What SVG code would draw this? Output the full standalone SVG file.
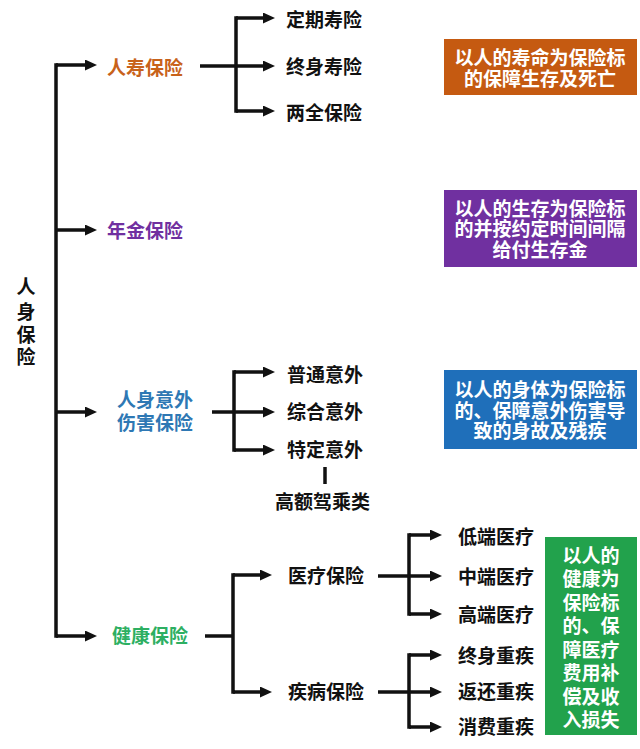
<svg xmlns="http://www.w3.org/2000/svg" width="640" height="749" viewBox="0 0 640 749">
<defs>
<style>
text{font-family:"Noto Sans CJK SC","Noto Sans",sans-serif;font-weight:bold;font-size:19px;}
.k{fill:#111;}
.w{fill:#fff;text-anchor:middle;}
.ln{stroke:#111;stroke-width:3.5;fill:none;}
.ar{stroke:#111;stroke-width:3.5;fill:none;marker-end:url(#ah);}
</style>
<marker id="ah" markerUnits="userSpaceOnUse" markerWidth="12" markerHeight="11" viewBox="0 0 12 11" refX="2" refY="5.5" orient="auto">
<path d="M0,0 L12,5.5 L0,11 z" fill="#111"/>
</marker>
</defs>
<rect width="640" height="749" fill="#fff"/>
<g id="connectors">
<path class="ln" d="M58,65 H56 V636 H58"/>
<path class="ar" d="M56,65 H87"/>
<path class="ar" d="M56,230 H87"/>
<path class="ar" d="M56,412 H87"/>
<path class="ar" d="M56,636 H87"/>
<path class="ln" d="M200,66 H236"/>
<path class="ln" d="M238,18 H236 V111 H238"/>
<path class="ar" d="M236,18 H265"/>
<path class="ar" d="M236,66 H265"/>
<path class="ar" d="M236,111 H265"/>
<path class="ln" d="M212,412 H234"/>
<path class="ln" d="M236,372 H234 V450 H236"/>
<path class="ar" d="M234,372 H265"/>
<path class="ar" d="M234,412 H265"/>
<path class="ar" d="M234,450 H265"/>
<path class="ln" d="M325,467 V484"/>
<path class="ln" d="M205,636 H233"/>
<path class="ln" d="M235,575 H233 V692 H235"/>
<path class="ar" d="M233,575 H262"/>
<path class="ar" d="M233,692 H262"/>
<path class="ln" d="M378,576 H409"/>
<path class="ln" d="M411,535 H409 V614 H411"/>
<path class="ar" d="M409,535 H432"/>
<path class="ar" d="M409,576 H432"/>
<path class="ar" d="M409,614 H432"/>
<path class="ln" d="M378,692 H409"/>
<path class="ln" d="M411,655 H409 V727 H411"/>
<path class="ar" d="M409,655 H432"/>
<path class="ar" d="M409,692 H432"/>
<path class="ar" d="M409,727 H432"/>
</g>
<g id="root">
<text class="k" x="26" y="294" text-anchor="middle" font-size="20">人</text>
<text class="k" x="26" y="319" text-anchor="middle" font-size="20">身</text>
<text class="k" x="26" y="342" text-anchor="middle" font-size="20">保</text>
<text class="k" x="26" y="364" text-anchor="middle" font-size="20">险</text>
</g>
<g id="life"><text x="107" y="75" fill="#C8621A">人寿保险</text></g>
<g id="life-1"><text class="k" x="286" y="27">定期寿险</text></g>
<g id="life-2"><text class="k" x="286" y="74">终身寿险</text></g>
<g id="life-3"><text class="k" x="286" y="120">两全保险</text></g>
<g id="annuity"><text x="107" y="238" fill="#7030A0">年金保险</text></g>
<g id="accident"><text x="117" y="407" fill="#2E78B4">人身意外</text><text x="117" y="430" fill="#2E78B4">伤害保险</text></g>
<g id="acc-1"><text class="k" x="287" y="382">普通意外</text></g>
<g id="acc-2"><text class="k" x="287" y="419">综合意外</text></g>
<g id="acc-3"><text class="k" x="287" y="457">特定意外</text></g>
<g id="acc-3a"><text class="k" x="275" y="509" font-size="19.5">高额驾乘类</text></g>
<g id="health"><text x="112" y="643" fill="#2DAF62">健康保险</text></g>
<g id="medical"><text class="k" x="288" y="583">医疗保险</text></g>
<g id="disease"><text class="k" x="288" y="699">疾病保险</text></g>
<g id="med-1"><text class="k" x="458" y="544">低端医疗</text></g>
<g id="med-2"><text class="k" x="458" y="584">中端医疗</text></g>
<g id="med-3"><text class="k" x="458" y="622">高端医疗</text></g>
<g id="dis-1"><text class="k" x="458" y="663">终身重疾</text></g>
<g id="dis-2"><text class="k" x="458" y="699">返还重疾</text></g>
<g id="dis-3"><text class="k" x="458" y="734">消费重疾</text></g>
<g id="note-life">
<rect x="444" y="39" width="193" height="56" fill="#C55A11"/>
<text class="w" x="540" y="65">以人的寿命为保险标</text>
<text class="w" x="540" y="86">的保障生存及死亡</text>
</g>
<g id="note-annuity">
<rect x="444" y="190" width="193" height="77" fill="#7030A0"/>
<text class="w" x="540" y="216">以人的生存为保险标</text>
<text class="w" x="540" y="236">的并按约定时间间隔</text>
<text class="w" x="540" y="257">给付生存金</text>
</g>
<g id="note-accident">
<rect x="444" y="370" width="193" height="79" fill="#1F6FBA"/>
<text class="w" x="540" y="397">以人的身体为保险标</text>
<text class="w" x="540" y="418">的、保障意外伤害导</text>
<text class="w" x="540" y="438">致的身故及残疾</text>
</g>
<g id="note-health">
<rect x="545" y="537" width="92" height="198" fill="#22A24C"/>
<text class="w" x="591" y="563">以人的</text>
<text class="w" x="591" y="586">健康为</text>
<text class="w" x="591" y="610">保险标</text>
<text class="w" x="591" y="633">的、保</text>
<text class="w" x="591" y="657">障医疗</text>
<text class="w" x="591" y="680">费用补</text>
<text class="w" x="591" y="704">偿及收</text>
<text class="w" x="591" y="727">入损失</text>
</g>
</svg>
